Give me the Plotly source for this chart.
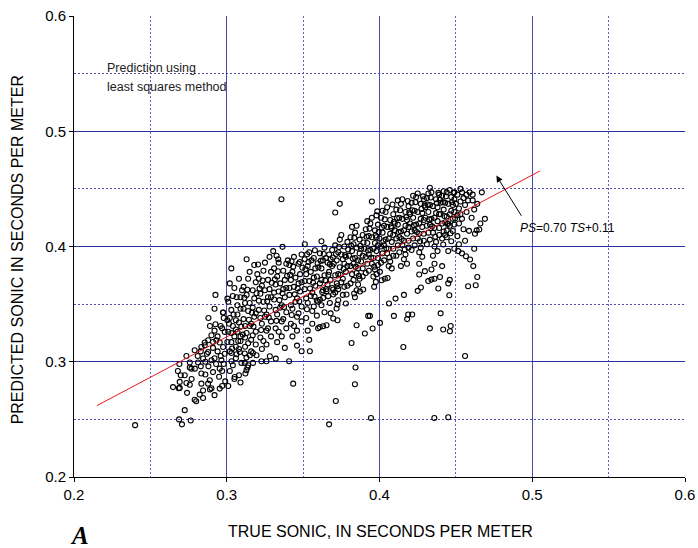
import plotly.graph_objects as go

# ---------------- data ----------------
# points with TRUE SONIC < 0.30
pts_a = [(0.240,0.245),(0.2688,0.250),(0.2764,0.249),(0.2707,0.2457),(0.2725,0.258),
 (0.2648,0.278),(0.2686,0.277),(0.274,0.273),(0.279,0.267),(0.280,0.2657),(0.2823,0.2715),
 (0.2845,0.275),(0.290,0.277),(0.2954,0.2767),(0.2889,0.284),(0.291,0.291),(0.2834,0.2898),
 (0.2834,0.281),(0.2758,0.280),(0.2699,0.2883),(0.2725,0.2883),(0.2769,0.294),(0.2791,0.294),
 (0.268,0.292),(0.2692,0.2825),(0.2736,0.305),(0.269,0.298),(0.2845,0.3028),(0.2878,0.3085),
 (0.290,0.3013),(0.2812,0.2993),(0.2758,0.2993),(0.2758,0.295),(0.2965,0.3013),(0.2987,0.307),
 (0.2954,0.294),(0.2878,0.281),(0.2845,0.2686),(0.2736,0.2816),(0.2692,0.2773),
 (0.2834,0.3128),(0.2856,0.3167),(0.2878,0.3187),(0.291,0.3172),(0.2932,0.3187),(0.290,0.323),
 (0.2954,0.3167),(0.2976,0.3128),(0.2987,0.3259),(0.2976,0.3427),(0.2926,0.358),(0.292,0.346),
 (0.288,0.338),(0.2926,0.3326),(0.2976,0.3427),(0.297,0.329),(0.2856,0.3143),
 (0.281,0.305),(0.283,0.309),(0.286,0.300),(0.288,0.296),(0.292,0.303),(0.294,0.309),
 (0.296,0.305),(0.298,0.298),(0.287,0.307),(0.291,0.312),(0.293,0.298),(0.295,0.287),
 (0.297,0.292),(0.299,0.283),(0.286,0.289),(0.289,0.276),(0.292,0.271),(0.297,0.279),
 (0.279,0.310),(0.277,0.285),(0.283,0.296),(0.294,0.322),(0.296,0.331),(0.298,0.338),
 (0.292,0.327),(0.289,0.331)]

# points with TRUE SONIC 0.30 - 0.35
pts_b = [(0.301,0.352),(0.303,0.345),(0.302,0.338),(0.304,0.331),(0.301,0.326),(0.305,0.322),
 (0.303,0.317),(0.306,0.313),(0.302,0.309),(0.307,0.341),(0.308,0.334),(0.306,0.328),(0.309,0.322),
 (0.304,0.357),(0.307,0.349),(0.309,0.356),(0.305,0.364),(0.308,0.372),(0.303,0.381),(0.309,0.318),
 (0.306,0.303),(0.304,0.297),(0.308,0.311),(0.302,0.292),(0.305,0.285),(0.301,0.279),(0.309,0.346),
 (0.307,0.326),(0.303,0.325),(0.306,0.336),(0.310,0.362),(0.302,0.368),
 (0.3031,0.3076),(0.3064,0.3065),(0.3085,0.3085),(0.3031,0.3004),(0.3096,0.299),(0.3052,0.2868),
 (0.308,0.2883),(0.309,0.282),(0.3004,0.3548),(0.3004,0.336),(0.3004,0.3172),
 (0.311,0.365),(0.313,0.358),(0.312,0.351),(0.314,0.344),(0.311,0.337),(0.315,0.331),(0.313,0.325),
 (0.316,0.319),(0.312,0.313),(0.317,0.347),(0.318,0.339),(0.316,0.333),(0.319,0.326),(0.314,0.372),
 (0.317,0.362),(0.319,0.369),(0.315,0.378),(0.318,0.384),(0.313,0.389),(0.319,0.315),(0.316,0.309),
 (0.312,0.321),(0.318,0.355),(0.311,0.346),(0.315,0.351),(0.319,0.342),(0.312,0.331),(0.317,0.323),
 (0.314,0.316),(0.320,0.376),
 (0.3118,0.3071),(0.3151,0.3056),(0.3172,0.3076),(0.3129,0.3036),(0.3195,0.3056),(0.3118,0.299),
 (0.314,0.297),(0.3136,0.295),(0.3129,0.2926),(0.3122,0.2898),(0.3172,0.299),
 (0.321,0.372),(0.323,0.366),(0.322,0.359),(0.324,0.352),(0.321,0.345),(0.325,0.339),(0.323,0.333),
 (0.326,0.327),(0.322,0.321),(0.327,0.356),(0.328,0.348),(0.326,0.341),(0.329,0.335),(0.324,0.379),
 (0.327,0.371),(0.329,0.378),(0.325,0.386),(0.328,0.391),(0.3205,0.3844),(0.329,0.322),(0.326,0.315),
 (0.323,0.311),(0.328,0.363),(0.321,0.353),(0.325,0.362),(0.329,0.356),(0.322,0.338),(0.327,0.329),
 (0.324,0.318),(0.3304,0.396),(0.3227,0.3004),(0.326,0.3004),(0.3282,0.3048),
 (0.331,0.381),(0.333,0.374),(0.332,0.367),(0.334,0.361),(0.331,0.354),(0.335,0.347),(0.333,0.341),
 (0.336,0.335),(0.332,0.329),(0.337,0.363),(0.338,0.356),(0.336,0.349),(0.339,0.343),(0.334,0.386),
 (0.337,0.379),(0.339,0.385),(0.3326,0.392),(0.3337,0.389),(0.3365,0.3997),(0.3358,0.441),
 (0.339,0.329),(0.336,0.322),(0.333,0.317),(0.338,0.371),(0.331,0.360),(0.335,0.368),(0.339,0.364),
 (0.332,0.345),(0.337,0.337),(0.334,0.326),(0.3321,0.3027),(0.338,0.312),
 (0.341,0.384),(0.343,0.378),(0.342,0.371),(0.344,0.365),(0.341,0.358),(0.345,0.352),(0.343,0.346),
 (0.346,0.339),(0.342,0.333),(0.347,0.368),(0.348,0.361),(0.346,0.355),(0.349,0.348),(0.344,0.391),
 (0.347,0.385),(0.349,0.393),(0.340,0.388),(0.3424,0.3872),(0.3478,0.3866),(0.349,0.335),
 (0.346,0.327),(0.343,0.322),(0.348,0.376),(0.341,0.364),(0.345,0.373),(0.349,0.369),(0.342,0.349),
 (0.347,0.342),(0.344,0.331),(0.3408,0.3004),(0.3435,0.281),(0.349,0.3091),(0.346,0.314)]

# points with TRUE SONIC 0.35 - 0.40
pts_c = [(0.351,0.389),(0.353,0.383),(0.352,0.376),(0.354,0.370),(0.351,0.363),(0.355,0.357),
 (0.353,0.351),(0.356,0.344),(0.352,0.338),(0.357,0.373),(0.358,0.366),(0.356,0.360),(0.359,0.353),
 (0.354,0.395),(0.357,0.390),(0.3511,0.402),(0.3526,0.3933),(0.3555,0.388),(0.3577,0.3968),
 (0.359,0.340),(0.356,0.333),(0.353,0.327),(0.358,0.381),(0.351,0.370),(0.355,0.378),(0.359,0.374),
 (0.352,0.355),(0.357,0.348),(0.354,0.319),(0.3544,0.3091),(0.3598,0.329),(0.3598,0.352),
 (0.3609,0.3302),(0.3631,0.3308),(0.3653,0.3317),(0.3697,0.3375),(0.362,0.349),(0.3675,0.351),
 (0.361,0.3538),(0.3631,0.3554),(0.3664,0.3569),(0.3697,0.3583),(0.3697,0.3627),(0.3653,0.3612),
 (0.362,0.4046),(0.367,0.2457),
 (0.361,0.394),(0.363,0.388),(0.362,0.381),(0.364,0.375),(0.361,0.368),(0.365,0.363),(0.367,0.378),
 (0.368,0.371),(0.366,0.367),(0.369,0.383),(0.364,0.399),(0.367,0.393),(0.369,0.397),(0.363,0.362),
 (0.366,0.386),(0.368,0.389),(0.360,0.382),(0.362,0.371),(0.365,0.390),(0.369,0.364),(0.364,0.343),
 (0.368,0.342),
 (0.3714,0.266),(0.374,0.437),(0.371,0.4295),(0.3725,0.336),(0.378,0.3505),(0.3725,0.3497),
 (0.3719,0.3462),(0.373,0.3534),(0.3784,0.3583),
 (0.371,0.401),(0.373,0.395),(0.372,0.388),(0.374,0.382),(0.371,0.375),(0.375,0.369),(0.373,0.363),
 (0.376,0.358),(0.377,0.385),(0.378,0.378),(0.376,0.372),(0.379,0.366),(0.374,0.406),(0.377,0.400),
 (0.379,0.404),(0.375,0.393),(0.378,0.391),(0.370,0.385),(0.372,0.368),(0.376,0.389),(0.379,0.383),
 (0.373,0.376),(0.377,0.365),(0.375,0.410),(0.371,0.360),
 (0.382,0.417),(0.3834,0.3592),(0.385,0.362),(0.3872,0.361),(0.3893,0.3627),(0.3839,0.356),
 (0.385,0.3317),(0.3817,0.3163),(0.3904,0.3245),(0.3839,0.2805),(0.3843,0.295),
 (0.381,0.408),(0.383,0.402),(0.382,0.396),(0.384,0.390),(0.381,0.383),(0.385,0.377),(0.383,0.371),
 (0.386,0.367),(0.387,0.394),(0.388,0.387),(0.386,0.381),(0.389,0.374),(0.384,0.412),(0.387,0.406),
 (0.389,0.410),(0.385,0.399),(0.388,0.398),(0.380,0.392),(0.382,0.376),(0.386,0.388),(0.389,0.392),
 (0.383,0.385),(0.387,0.372),(0.385,0.418),(0.381,0.368),(0.389,0.381),
 (0.395,0.439),(0.398,0.427),(0.3944,0.2512),(0.3965,0.365),(0.3976,0.3693),(0.4003,0.3337),
 (0.3955,0.3288),(0.3926,0.3398),(0.3937,0.3398),
 (0.391,0.415),(0.393,0.409),(0.392,0.403),(0.394,0.397),(0.391,0.391),(0.395,0.385),(0.393,0.379),
 (0.396,0.374),(0.397,0.403),(0.398,0.396),(0.396,0.390),(0.399,0.384),(0.394,0.420),(0.397,0.414),
 (0.399,0.419),(0.395,0.408),(0.398,0.408),(0.390,0.398),(0.392,0.385),(0.396,0.398),(0.399,0.401),
 (0.393,0.393),(0.397,0.380),(0.395,0.425),(0.391,0.377),(0.399,0.390),(0.392,0.422),(0.398,0.376)]

# points with TRUE SONIC >= 0.40
pts_d = [(0.4003,0.378),(0.4035,0.372),(0.4014,0.3707),(0.4053,0.3727),(0.4105,0.3548),
 (0.4062,0.3505),(0.4094,0.3398),
 (0.401,0.425),(0.403,0.418),(0.402,0.412),(0.404,0.406),(0.401,0.400),(0.405,0.394),(0.403,0.388),
 (0.406,0.383),(0.407,0.411),(0.408,0.404),(0.406,0.398),(0.409,0.392),(0.404,0.430),(0.407,0.423),
 (0.409,0.428),(0.405,0.417),(0.408,0.416),(0.400,0.407),(0.402,0.394),(0.406,0.407),(0.409,0.410),
 (0.403,0.401),(0.407,0.387),(0.405,0.434),(0.401,0.386),(0.409,0.398),(0.402,0.431),(0.408,0.381),
 (0.404,0.440),(0.410,0.420),
 (0.4156,0.3128),(0.4188,0.341),(0.4181,0.337),(0.416,0.358),
 (0.411,0.432),(0.413,0.425),(0.412,0.419),(0.414,0.413),(0.411,0.407),(0.415,0.401),(0.413,0.395),
 (0.416,0.389),(0.417,0.418),(0.418,0.411),(0.416,0.405),(0.419,0.399),(0.414,0.437),(0.417,0.430),
 (0.419,0.435),(0.415,0.424),(0.418,0.423),(0.410,0.414),(0.412,0.401),(0.416,0.414),(0.419,0.417),
 (0.413,0.408),(0.417,0.393),(0.415,0.441),(0.411,0.392),(0.419,0.405),(0.412,0.440),(0.418,0.385),
 (0.414,0.383),(0.420,0.428),
 (0.4214,0.341),(0.425,0.3615),(0.4271,0.3644),(0.426,0.3757),(0.426,0.385),(0.4297,0.3786),
 (0.421,0.438),(0.423,0.431),(0.422,0.425),(0.424,0.419),(0.421,0.413),(0.425,0.407),(0.423,0.401),
 (0.426,0.395),(0.427,0.424),(0.428,0.417),(0.426,0.411),(0.429,0.405),(0.424,0.443),(0.427,0.437),
 (0.429,0.441),(0.425,0.430),(0.428,0.429),(0.420,0.420),(0.422,0.407),(0.426,0.420),(0.429,0.423),
 (0.423,0.414),(0.427,0.399),(0.425,0.446),(0.421,0.397),(0.429,0.411),(0.422,0.444),(0.428,0.391),
 (0.430,0.434),
 (0.433,0.451),(0.433,0.329),(0.4359,0.2512),(0.4319,0.370),(0.434,0.3713),(0.436,0.372),
 (0.4396,0.3736),(0.4385,0.3635),(0.434,0.380),(0.436,0.385),(0.440,0.342),
 (0.431,0.442),(0.433,0.436),(0.432,0.430),(0.434,0.424),(0.431,0.418),(0.435,0.412),(0.433,0.406),
 (0.436,0.400),(0.437,0.429),(0.438,0.422),(0.436,0.416),(0.439,0.410),(0.434,0.447),(0.437,0.441),
 (0.439,0.445),(0.435,0.435),(0.438,0.434),(0.430,0.425),(0.432,0.412),(0.436,0.425),(0.439,0.428),
 (0.433,0.419),(0.437,0.404),(0.431,0.402),(0.439,0.416),(0.432,0.446),(0.438,0.396),(0.435,0.392),
 (0.440,0.438),
 (0.441,0.383),(0.4417,0.328),(0.4461,0.3265),(0.4466,0.331),(0.445,0.2518),(0.4457,0.3577),
 (0.445,0.368),(0.446,0.371),(0.447,0.4046),(0.444,0.408),(0.449,0.398),(0.445,0.396),
 (0.4417,0.4017),(0.448,0.4135),(0.444,0.414),
 (0.441,0.444),(0.443,0.438),(0.442,0.432),(0.444,0.426),(0.441,0.420),(0.445,0.420),(0.443,0.410),
 (0.447,0.431),(0.448,0.424),(0.446,0.418),(0.449,0.441),(0.444,0.447),(0.447,0.443),(0.449,0.447),
 (0.445,0.437),(0.448,0.436),(0.440,0.428),(0.442,0.413),(0.446,0.428),(0.449,0.430),(0.443,0.421),
 (0.441,0.407),(0.449,0.419),(0.442,0.448),(0.446,0.449),
 (0.4516,0.396),(0.454,0.394),(0.4566,0.3916),(0.4593,0.3887),(0.456,0.305),(0.458,0.3655),
 (0.4586,0.4136),(0.4603,0.425),
 (0.451,0.445),(0.453,0.439),(0.452,0.433),(0.454,0.447),(0.451,0.427),(0.455,0.442),(0.453,0.428),
 (0.456,0.436),(0.457,0.445),(0.452,0.420),(0.455,0.415),(0.451,0.409),(0.454,0.424),(0.458,0.440),
 (0.457,0.430),(0.453,0.450),(0.459,0.447),(0.450,0.437),(0.452,0.402),(0.456,0.405),
 (0.463,0.3664),(0.464,0.3736),(0.4614,0.383),(0.4636,0.414),(0.4653,0.4148),(0.4625,0.411),
 (0.467,0.447),
 (0.461,0.440),(0.462,0.432),(0.461,0.445),(0.464,0.437),(0.466,0.420),(0.469,0.424),(0.462,0.398)]

# further points in the dense band
pts_e = [(0.3015,0.333),(0.3045,0.341),(0.3075,0.318),(0.3035,0.3115),(0.3065,0.356),(0.3095,0.3305),
 (0.3115,0.3555),(0.3145,0.3365),(0.3175,0.3305),(0.3135,0.3625),(0.3165,0.3425),(0.3195,0.3595),(0.3105,0.3235),
 (0.3215,0.3635),(0.3245,0.3445),(0.3275,0.3385),(0.3235,0.3705),(0.3265,0.3525),(0.3295,0.3685),(0.3225,0.3275),
 (0.3315,0.3715),(0.3345,0.3535),(0.3375,0.3475),(0.3335,0.3785),(0.3365,0.3595),(0.3395,0.3745),(0.3325,0.3355),
 (0.3415,0.3755),(0.3445,0.3585),(0.3475,0.3525),(0.3435,0.3825),(0.3465,0.3635),(0.3495,0.3815),(0.3425,0.3405),
 (0.3515,0.3805),(0.3545,0.3635),(0.3575,0.3565),(0.3535,0.3865),(0.3565,0.3685),(0.3595,0.3855),(0.3525,0.3455),
 (0.3615,0.3875),(0.3645,0.3705),(0.3675,0.3845),(0.3635,0.3935),(0.3665,0.3755),(0.3695,0.3905),(0.3625,0.3605),
 (0.3715,0.3935),(0.3745,0.3755),(0.3775,0.3925),(0.3735,0.3995),(0.3765,0.3805),(0.3795,0.3975),(0.3725,0.3655),
 (0.3815,0.4005),(0.3845,0.3825),(0.3875,0.4005),(0.3835,0.4075),(0.3865,0.3745),(0.3895,0.4035),(0.3825,0.3895),
 (0.3915,0.4085),(0.3945,0.3905),(0.3975,0.4095),(0.3935,0.4155),(0.3965,0.3825),(0.3995,0.4125),(0.3925,0.3965),(0.3985,0.4305),
 (0.4015,0.4165),(0.4045,0.3985),(0.4075,0.4175),(0.4035,0.4235),(0.4065,0.3905),(0.4095,0.4215),(0.4025,0.4045),(0.4085,0.4365),
 (0.4115,0.4245),(0.4145,0.4065),(0.4175,0.4255),(0.4135,0.4315),(0.4165,0.3975),(0.4195,0.4295),(0.4125,0.4125),(0.4185,0.4395),
 (0.4215,0.4315),(0.4245,0.4125),(0.4275,0.4325),(0.4235,0.4385),(0.4265,0.4045),(0.4295,0.4355),(0.4225,0.4185),(0.4285,0.4435),
 (0.4315,0.4365),(0.4345,0.4175),(0.4375,0.4375),(0.4335,0.4425),(0.4365,0.4085),(0.4395,0.4405),(0.4325,0.4235),(0.4385,0.4465),
 (0.4415,0.4385),(0.4445,0.4195),(0.4475,0.4385),(0.4435,0.4435),(0.4465,0.4115),(0.4495,0.4245),(0.4425,0.4265),(0.4485,0.4465)]

# least-squares fit  PS = 0.70 TS + 0.11
fit_slope = 0.702
fit_intercept = 0.111
fit_x = [0.215, 0.505]

axis_ticks = [0.2, 0.3, 0.4, 0.5, 0.6]
axis_tick_text = ["0.2", "0.3", "0.4", "0.5", "0.6"]

# ---------------- figure ----------------
all_pts = pts_a + pts_b + pts_c + pts_d + pts_e
true_sonic = [p[0] for p in all_pts]
pred_sonic = [p[1] for p in all_pts]
fit_y = [fit_slope * v + fit_intercept for v in fit_x]

fig = go.Figure()
fig.add_trace(go.Scatter(
    x=true_sonic, y=pred_sonic, mode="markers",
    marker=dict(symbol="circle-open", size=5, color="black", line=dict(width=1.1, color="black")),
    showlegend=False, hoverinfo="skip"))
fig.add_trace(go.Scatter(
    x=fit_x, y=fit_y, mode="lines", line=dict(color="#e8141e", width=1),
    showlegend=False, hoverinfo="skip"))

def axis_style(major_color, minor_color):
    return dict(
        range=[0.2, 0.6], tickvals=axis_ticks, ticktext=axis_tick_text, automargin=False,
        showgrid=True, gridcolor=major_color, gridwidth=1,
        zeroline=False, showline=True, linecolor="black", linewidth=1,
        ticks="outside", ticklen=4, tickcolor="black",
        tickfont=dict(family="Liberation Sans, Arial", size=15, color="black"),
        minor=dict(dtick=0.05, tick0=0.25, showgrid=True, gridcolor=minor_color,
                   griddash="2px,2px", gridwidth=1, ticks=""),
    )

fig.update_xaxes(**axis_style("#4848b0", "#5c5cc0"))
fig.update_yaxes(**axis_style("#2e2ea0", "#4a4ab0"))

font_txt = "Liberation Sans, Arial"
annotations = [
    dict(text="PREDICTED SONIC IN SECONDS PER METER", xref="paper", yref="paper",
         x=-0.093, y=0.492, textangle=-90, showarrow=False,
         font=dict(family=font_txt, size=16, color="black"), xanchor="center", yanchor="middle"),
    dict(text="TRUE SONIC, IN SECONDS PER METER", xref="paper", yref="paper",
         x=0.502, y=-0.119, showarrow=False,
         font=dict(family=font_txt, size=16, color="black"), xanchor="center", yanchor="middle"),
    dict(text="<b><i>A</i></b>", xref="paper", yref="paper", x=0.0098, y=-0.127,
         showarrow=False, font=dict(family="Liberation Serif, Times New Roman", size=25, color="black"),
         xanchor="center", yanchor="middle"),
    dict(text="Prediction using", x=0.22, y=0.555, xref="x", yref="y", showarrow=False,
         xanchor="left", yanchor="middle", font=dict(family=font_txt, size=12.5, color="#222")),
    dict(text="least squares method", x=0.22, y=0.538, xref="x", yref="y", showarrow=False,
         xanchor="left", yanchor="middle", font=dict(family=font_txt, size=12.5, color="#222")),
    dict(text="<i>PS</i>=0.70 <i>TS</i>+0.11", x=0.4905, y=0.4159, xref="x", yref="y",
         showarrow=False, xanchor="left", yanchor="middle",
         font=dict(family=font_txt, size=12, color="black")),
    dict(text="", x=0.4765, y=0.4615, xref="x", yref="y", ax=0.4935, ay=0.4254,
         axref="x", ayref="y", showarrow=True, arrowhead=2, arrowsize=1.3, arrowwidth=1,
         arrowcolor="black"),
]
fig.update_layout(
    width=698, height=548,
    margin=dict(l=74, r=13, t=16, b=71),
    paper_bgcolor="white", plot_bgcolor="white",
    annotations=annotations,
)
fig.write_html("out.html")
